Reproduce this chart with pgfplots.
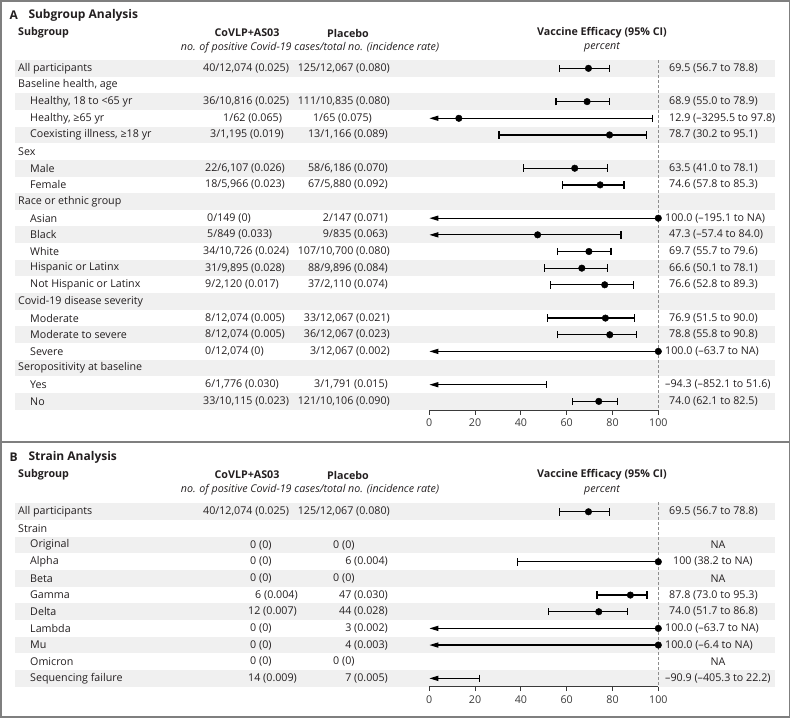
\documentclass[border=0pt]{standalone}
\usepackage{fontspec}
\setmainfont{Open Sans}
\usepackage{pgfplots}
\pgfplotsset{compat=1.18}
\usetikzlibrary{arrows.meta}
\definecolor{band}{HTML}{F0F0F0}
\definecolor{framec}{HTML}{7F7F7F}
\definecolor{txt}{HTML}{231F20}
\definecolor{tickc}{HTML}{3A3A3A}
\definecolor{dashc}{HTML}{8C8C8C}
\newcommand{\ya}[1]{68.3+16.65*#1}
\newcommand{\yb}[1]{511.7+16.66*#1}
\newcommand{\fs}{\fontsize{10.7}{13}\selectfont}
\newcommand{\ft}{\fontsize{12}{14}\selectfont}
\pgfplotsset{
  ci/.style={black, line width=1.25pt},
  cc/.style={ci, arrows={Bar[width=7.5pt]-Bar[width=7.5pt]}},
  ac/.style={ci, arrows={Triangle[length=9pt,width=5pt]-Bar[width=7.5pt]}},
  aa/.style={ci, arrows={Triangle[length=9pt,width=5pt]-}},
  ca/.style={ci, arrows={Bar[width=7.5pt]-}},
  pts/.style={only marks, mark=*, mark size=3.3pt, black},
  forest/.style={
    scale only axis, width=229pt, xmin=0, xmax=100,
    anchor=south west, clip=false,
    axis x line=bottom, axis y line=none,
    axis line style={-, tickc, line width=0.9pt},
    xtick={0,20,40,60,80,100},
    tick align=outside, major tick length=4.5pt,
    tick style={tickc, line width=0.9pt},
    xticklabel style={font=\fs, text=tickc, yshift=-1pt},
    /pgf/number format/assume math mode=true,
  },
}
\tikzset{tx/.style={font=\fs, text=txt, inner sep=0pt},
  L/.style={tx, anchor=west}, R/.style={tx, anchor=east}, C/.style={tx, anchor=center},
  B/.style={font=\fs\bfseries},
  T/.style={font=\ft\bfseries},
  I/.style={font=\fs\itshape}}
\begin{document}
\begin{tikzpicture}
\begin{scope}[x=1pt, y=-1pt]
\useasboundingbox (0,0) rectangle (791,718);
% frames
\draw[framec, line width=1.4pt] (1,1) rectangle (789.5,441.3);
\draw[framec, line width=1.4pt] (1,442.7) rectangle (789.5,717);
% bands A
\foreach \i in {0,2,...,20} {\fill[band] (15,{\ya{\i}-8.32}) rectangle (775,{\ya{\i}+8.32});}
% bands B
\foreach \i in {0,2,...,10} {\fill[band] (15,{\yb{\i}-8.33}) rectangle (775,{\yb{\i}+8.33});}

% ---------- Panel A text ----------
\node[L,T,anchor=west] at (9.5,15) {A};
\node[L,T,anchor=west] at (28.3,15) {Subgroup Analysis};
\node[L,B,anchor=west] at (18,33) {Subgroup};
\node[C,B] at (247,33) {CoVLP+AS03};
\node[C,B] at (348,33) {Placebo};
\node[C,B] at (602,33) {Vaccine Efficacy (95\% CI)};
\node[C,I] at (310,47.5) {no. of positive Covid-19 cases/total no. (incidence rate)};
\node[C,I] at (602,47.5) {percent};

\node[L] at (18,{\ya{0}}) {All participants};
\node[L] at (18,{\ya{1}}) {Baseline health, age};
\node[L] at (30,{\ya{2}}) {Healthy, 18 to <65 yr};
\node[L] at (30,{\ya{3}}) {Healthy, ≥65 yr};
\node[L] at (30,{\ya{4}}) {Coexisting illness, ≥18 yr};
\node[L] at (18,{\ya{5}}) {Sex};
\node[L] at (30,{\ya{6}}) {Male};
\node[L] at (30,{\ya{7}}) {Female};
\node[L] at (18,{\ya{8}}) {Race or ethnic group};
\node[L] at (30,{\ya{9}}) {Asian};
\node[L] at (30,{\ya{10}}) {Black};
\node[L] at (30,{\ya{11}}) {White};
\node[L] at (30,{\ya{12}}) {Hispanic or Latinx};
\node[L] at (30,{\ya{13}}) {Not Hispanic or Latinx};
\node[L] at (18,{\ya{14}}) {Covid-19 disease severity};
\node[L] at (30,{\ya{15}}) {Moderate};
\node[L] at (30,{\ya{16}}) {Moderate to severe};
\node[L] at (30,{\ya{17}}) {Severe};
\node[L] at (18,{\ya{18}}) {Seropositivity at baseline};
\node[L] at (30,{\ya{19}}) {Yes};
\node[L] at (30,{\ya{20}}) {No};

\node[L] at (203,{\ya{0}}) {40/12,074 (0.025)};
\node[L] at (203,{\ya{2}}) {36/10,816 (0.025)};
\node[L] at (223,{\ya{3}}) {1/62 (0.065)};
\node[L] at (210,{\ya{4}}) {3/1,195 (0.019)};
\node[L] at (205,{\ya{6}}) {22/6,107 (0.026)};
\node[L] at (205,{\ya{7}}) {18/5,966 (0.023)};
\node[L] at (207,{\ya{9}}) {0/149 (0)};
\node[L] at (207,{\ya{10}}) {5/849 (0.033)};
\node[L] at (203,{\ya{11}}) {34/10,726 (0.024)};
\node[L] at (205,{\ya{12}}) {31/9,895 (0.028)};
\node[L] at (205,{\ya{13}}) {9/2,120 (0.017)};
\node[L] at (205,{\ya{15}}) {8/12,074 (0.005)};
\node[L] at (205,{\ya{16}}) {8/12,074 (0.005)};
\node[L] at (205,{\ya{17}}) {0/12,074 (0)};
\node[L] at (205,{\ya{19}}) {6/1,776 (0.030)};
\node[L] at (203,{\ya{20}}) {33/10,115 (0.023)};

\node[R] at (390,{\ya{0}}) {125/12,067 (0.080)};
\node[R] at (390,{\ya{2}}) {111/10,835 (0.080)};
\node[R] at (372,{\ya{3}}) {1/65 (0.075)};
\node[R] at (388,{\ya{4}}) {13/1,166 (0.089)};
\node[R] at (388,{\ya{6}}) {58/6,186 (0.070)};
\node[R] at (388,{\ya{7}}) {67/5,880 (0.092)};
\node[R] at (388,{\ya{9}}) {2/147 (0.071)};
\node[R] at (388,{\ya{10}}) {9/835 (0.063)};
\node[R] at (390,{\ya{11}}) {107/10,700 (0.080)};
\node[R] at (388,{\ya{12}}) {88/9,896 (0.084)};
\node[R] at (388,{\ya{13}}) {37/2,110 (0.074)};
\node[R] at (390,{\ya{15}}) {33/12,067 (0.021)};
\node[R] at (390,{\ya{16}}) {36/12,067 (0.023)};
\node[R] at (390,{\ya{17}}) {3/12,067 (0.002)};
\node[R] at (388,{\ya{19}}) {3/1,791 (0.015)};
\node[R] at (390,{\ya{20}}) {121/10,106 (0.090)};

\node[L] at (669,{\ya{0}}) {69.5 (56.7 to 78.8)};
\node[L] at (669,{\ya{2}}) {68.9 (55.0 to 78.9)};
\node[L] at (669,{\ya{3}}) {12.9 (–3295.5 to 97.8)};
\node[L] at (669,{\ya{4}}) {78.7 (30.2 to 95.1)};
\node[L] at (669,{\ya{6}}) {63.5 (41.0 to 78.1)};
\node[L] at (669,{\ya{7}}) {74.6 (57.8 to 85.3)};
\node[L] at (665,{\ya{9}}) {100.0 (–195.1 to NA)};
\node[L] at (669,{\ya{10}}) {47.3 (–57.4 to 84.0)};
\node[L] at (669,{\ya{11}}) {69.7 (55.7 to 79.6)};
\node[L] at (669,{\ya{12}}) {66.6 (50.1 to 78.1)};
\node[L] at (669,{\ya{13}}) {76.6 (52.8 to 89.3)};
\node[L] at (669,{\ya{15}}) {76.9 (51.5 to 90.0)};
\node[L] at (669,{\ya{16}}) {78.8 (55.8 to 90.8)};
\node[L] at (665,{\ya{17}}) {100.0 (–63.7 to NA)};
\node[L] at (665,{\ya{19}}) {–94.3 (–852.1 to 51.6)};
\node[L] at (669,{\ya{20}}) {74.0 (62.1 to 82.5)};

% ---------- Panel B text ----------
\node[L,T,anchor=west] at (9.5,457) {B};
\node[L,T,anchor=west] at (28.3,457) {Strain Analysis};
\node[L,B,anchor=west] at (18,475) {Subgroup};
\node[C,B] at (247,475) {CoVLP+AS03};
\node[C,B] at (348,475) {Placebo};
\node[C,B] at (602,475) {Vaccine Efficacy (95\% CI)};
\node[C,I] at (310,490) {no. of positive Covid-19 cases/total no. (incidence rate)};
\node[C,I] at (602,490) {percent};

\node[L] at (18,{\yb{0}}) {All participants};
\node[L] at (18,{\yb{1}}) {Strain};
\node[L] at (30,{\yb{2}}) {Original};
\node[L] at (30,{\yb{3}}) {Alpha};
\node[L] at (30,{\yb{4}}) {Beta};
\node[L] at (30,{\yb{5}}) {Gamma};
\node[L] at (30,{\yb{6}}) {Delta};
\node[L] at (30,{\yb{7}}) {Lambda};
\node[L] at (30,{\yb{8}}) {Mu};
\node[L] at (30,{\yb{9}}) {Omicron};
\node[L] at (30,{\yb{10}}) {Sequencing failure};

\node[L] at (203,{\yb{0}}) {40/12,074 (0.025)};
\node[L] at (250,{\yb{2}}) {0 (0)};
\node[L] at (250,{\yb{3}}) {0 (0)};
\node[L] at (250,{\yb{4}}) {0 (0)};
\node[L] at (255,{\yb{5}}) {6 (0.004)};
\node[L] at (248,{\yb{6}}) {12 (0.007)};
\node[L] at (250,{\yb{7}}) {0 (0)};
\node[L] at (250,{\yb{8}}) {0 (0)};
\node[L] at (250,{\yb{9}}) {0 (0)};
\node[L] at (248,{\yb{10}}) {14 (0.009)};

\node[R] at (390,{\yb{0}}) {125/12,067 (0.080)};
\node[L] at (333,{\yb{2}}) {0 (0)};
\node[R] at (388,{\yb{3}}) {6 (0.004)};
\node[L] at (333,{\yb{4}}) {0 (0)};
\node[R] at (388,{\yb{5}}) {47 (0.030)};
\node[R] at (388,{\yb{6}}) {44 (0.028)};
\node[R] at (388,{\yb{7}}) {3 (0.002)};
\node[R] at (388,{\yb{8}}) {4 (0.003)};
\node[L] at (333,{\yb{9}}) {0 (0)};
\node[R] at (388,{\yb{10}}) {7 (0.005)};

\node[L] at (669,{\yb{0}}) {69.5 (56.7 to 78.8)};
\node[C] at (718,{\yb{2}}) {NA};
\node[L] at (673,{\yb{3}}) {100 (38.2 to NA)};
\node[C] at (718,{\yb{4}}) {NA};
\node[L] at (669,{\yb{5}}) {87.8 (73.0 to 95.3)};
\node[L] at (669,{\yb{6}}) {74.0 (51.7 to 86.8)};
\node[L] at (665,{\yb{7}}) {100.0 (–63.7 to NA)};
\node[L] at (665,{\yb{8}}) {100.0 (–6.4 to NA)};
\node[C] at (718,{\yb{9}}) {NA};
\node[L] at (665,{\yb{10}}) {–90.9 (–405.3 to 22.2)};
\end{scope}

% ---------- Panel A forest ----------
\begin{axis}[forest, at={(429.3pt,-410pt)}, height=350pt, ymin=-20.52, ymax=0.5]
\draw[dashc, line width=1.2pt, dash pattern=on 3pt off 2pt] (axis cs:100,0.5) -- (axis cs:100,-20.52);
\addplot[cc] coordinates {(56.7,0) (78.8,0)};
\addplot[cc] coordinates {(55.0,-2) (78.9,-2)};
\addplot[ac] coordinates {(0,-3) (97.8,-3)};
\addplot[cc] coordinates {(30.2,-4) (95.1,-4)};
\addplot[cc] coordinates {(41.0,-6) (78.1,-6)};
\addplot[cc] coordinates {(57.8,-7) (85.3,-7)};
\addplot[aa] coordinates {(0,-9) (100,-9)};
\addplot[ac] coordinates {(0,-10) (84.0,-10)};
\addplot[cc] coordinates {(55.7,-11) (79.6,-11)};
\addplot[cc] coordinates {(50.1,-12) (78.1,-12)};
\addplot[cc] coordinates {(52.8,-13) (89.3,-13)};
\addplot[cc] coordinates {(51.5,-15) (90.0,-15)};
\addplot[cc] coordinates {(55.8,-16) (90.8,-16)};
\addplot[aa] coordinates {(0,-17) (100,-17)};
\addplot[ac] coordinates {(0,-19) (51.6,-19)};
\addplot[cc] coordinates {(62.1,-20) (82.5,-20)};
\addplot[pts] coordinates {(69.5,0) (68.9,-2) (12.9,-3) (78.7,-4) (63.5,-6) (74.6,-7)
  (100,-9) (47.3,-10) (69.7,-11) (66.6,-12) (76.6,-13) (76.9,-15) (78.8,-16) (100,-17) (74.0,-20)};
\end{axis}

% ---------- Panel B forest ----------
\begin{axis}[forest, at={(429.3pt,-686.7pt)}, height=184.6pt, ymin=-10.5, ymax=0.58]
\draw[dashc, line width=1.2pt, dash pattern=on 3pt off 2pt] (axis cs:100,0.58) -- (axis cs:100,-10.5);
\addplot[cc] coordinates {(56.7,0) (78.8,0)};
\addplot[ca] coordinates {(38.2,-3) (100,-3)};
\addplot[cc] coordinates {(73.0,-5) (95.3,-5)};
\addplot[cc] coordinates {(51.7,-6) (86.8,-6)};
\addplot[aa] coordinates {(0,-7) (100,-7)};
\addplot[aa] coordinates {(0,-8) (100,-8)};
\addplot[ac] coordinates {(0,-10) (22.2,-10)};
\addplot[pts] coordinates {(69.5,0) (100,-3) (87.8,-5) (74.0,-6) (100,-7) (100,-8)};
\end{axis}
\end{tikzpicture}
\end{document}
